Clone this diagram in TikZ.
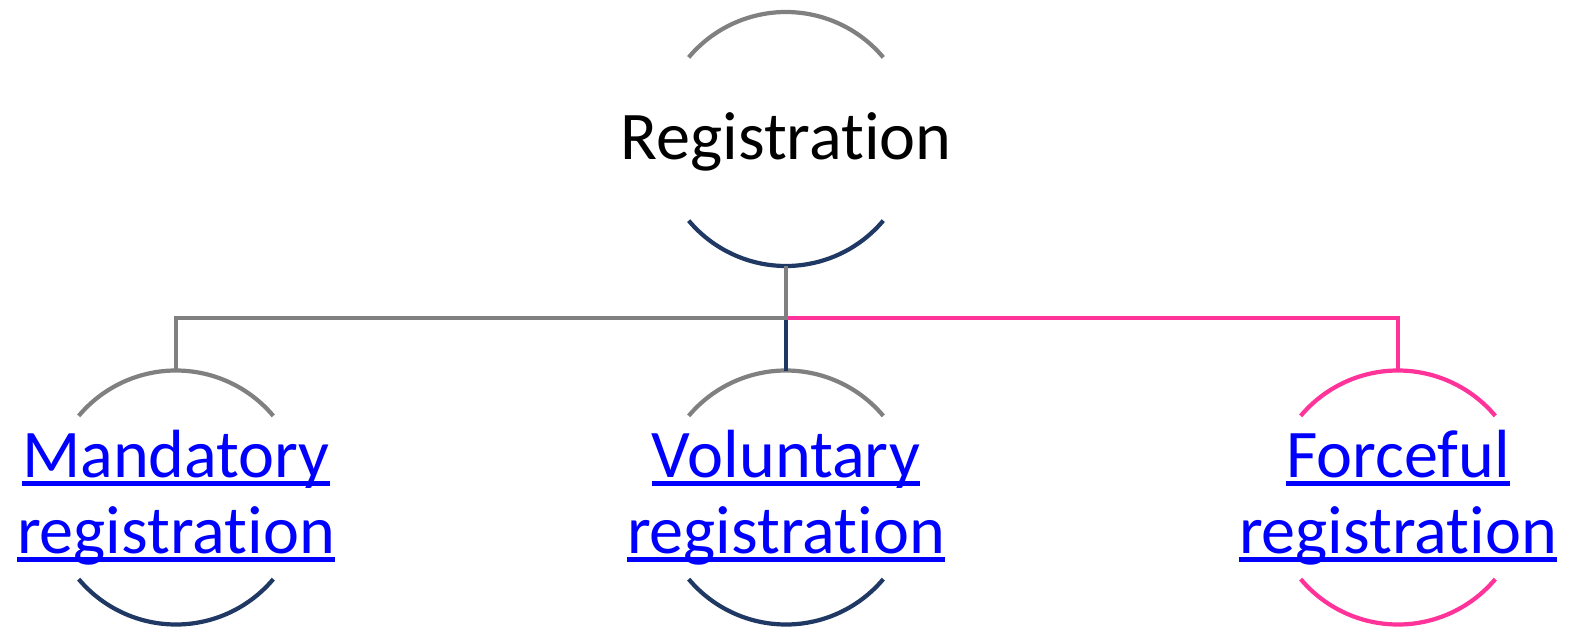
\documentclass[tikz,border=0pt]{standalone}
\usepackage{fontspec}
\setmainfont{Carlito}[Ligatures={NoCommon}]
\usetikzlibrary{positioning, calc}

\definecolor{wiregray}{RGB}{128,128,128}
\definecolor{wirenavy}{RGB}{31,56,100}
\definecolor{wirepink}{RGB}{255,51,153}
\definecolor{linkblue}{RGB}{0,0,255}

% underlined link text
\newcommand{\ulink}[1]{\leavevmode\setbox0=\hbox{#1}\rlap{\rule[-0.13em]{\wd0}{0.07em}}\box0}

\begin{document}
\begin{tikzpicture}[
	ring/.style={circle, minimum size=2.54cm, inner sep=0pt, outer sep=0pt},
	txt/.style={font=\fontsize{19.4}{21.6}\selectfont, align=center, inner sep=0pt},
	link/.style={txt, text=linkblue},
	wire/.style={line width=1.2pt},
]

	\useasboundingbox (-7.86,1.39) rectangle ++(15.69,-6.29);

	\node (reg) [ring] {};
	\node (vol) [ring, below=1.045cm of reg] {};
	\node (man) [ring, left=3.56cm of vol] {};
	\node (frc) [ring, right=3.58cm of vol] {};

	\node (reg_txt) [txt, yshift=-0.03cm] at (reg) {Registration};
	\node (man_txt) [link] at (man) {\ulink{Mandatory}\\\ulink{registration}};
	\node (vol_txt) [link] at (vol) {\ulink{Voluntary}\\\ulink{registration}};
	\node (frc_txt) [link] at (frc) {\ulink{Forceful}\\\ulink{registration}};

	% ring halves
	\path[draw, wire, wiregray] (reg.40) arc[start angle=40, end angle=140, radius=1.27cm];
	\path[draw, wire, wirenavy] (reg.-140) arc[start angle=-140, end angle=-40, radius=1.27cm];
	\path[draw, wire, wiregray] (man.40) arc[start angle=40, end angle=140, radius=1.27cm];
	\path[draw, wire, wirenavy] (man.-140) arc[start angle=-140, end angle=-40, radius=1.27cm];
	\path[draw, wire, wiregray] (vol.40) arc[start angle=40, end angle=140, radius=1.27cm];
	\path[draw, wire, wirenavy] (vol.-140) arc[start angle=-140, end angle=-40, radius=1.27cm];
	\path[draw, wire, wirepink] (frc.40) arc[start angle=40, end angle=140, radius=1.27cm];
	\path[draw, wire, wirepink] (frc.-140) arc[start angle=-140, end angle=-40, radius=1.27cm];

	% tree lines
	\coordinate (bus) at ($(reg.south)!0.5!(vol.north)$);
	\path[draw, wire, wirenavy] (bus) -- (vol.north);
	\path[draw, wire, wirepink] (bus) -| (frc.north);
	\path[draw, wire, wiregray] (reg.south) -- (bus) -| (man.north);

\end{tikzpicture}
\end{document}
